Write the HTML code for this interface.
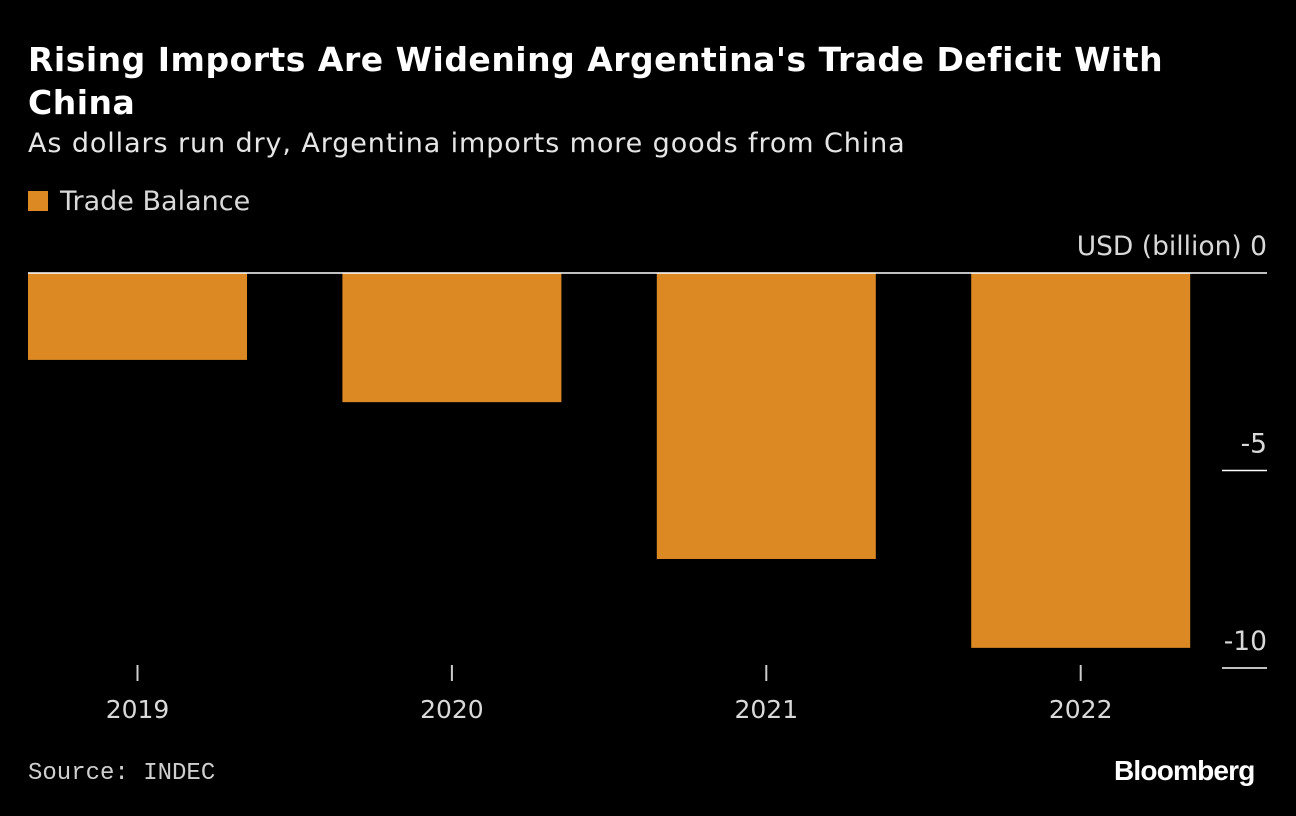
<!DOCTYPE html>
<html><head><meta charset="utf-8"><style>
body{margin:0;background:#000;width:1296px;height:816px;overflow:hidden;font-family:"DejaVu Sans","Liberation Sans",sans-serif;color:#fff}
.t{position:absolute;white-space:nowrap}
</style></head><body>
<div class="t" style="left:28px;top:38px;font-size:33px;font-weight:bold;line-height:43px;letter-spacing:0.5px">Rising Imports Are Widening Argentina's Trade Deficit With<br>China</div>
<div class="t" style="left:28px;top:128px;font-size:27px;color:#e6e6e6;letter-spacing:0.9px">As dollars run dry, Argentina imports more goods from China</div>
<div class="t" style="left:28px;top:186px;font-size:27px;color:#d9d9d9"><span style="display:inline-block;width:20px;height:20px;background:#dc8924;margin-right:12px;vertical-align:-1px"></span>Trade Balance</div>
<div class="t" style="left:28px;top:760px;font-size:24px;color:#cfcfcf;font-family:'Liberation Mono',monospace">Source: INDEC</div>
<div class="t" style="left:1114px;top:755px;font-size:28px;font-weight:bold;letter-spacing:-0.8px;font-family:'Liberation Sans',sans-serif">Bloomberg</div>
<svg id="c" width="1296" height="816" style="position:absolute;left:0;top:0"></svg>
<script>
const categories=["2019","2020","2021","2022"];
const values=[-2.2,-3.27,-7.24,-9.49];
const yTicks=[0,-5,-10];
const yTickLabels=["0","-5","-10"];
const svg=document.getElementById('c');
const NS='http://www.w3.org/2000/svg';
const y=v=>273-v*39.5;
const x=i=>137.5+i*314.4;
const bw=219;
function mk(t,a){const e=document.createElementNS(NS,t);for(const k in a)e.setAttribute(k,a[k]);svg.appendChild(e);return e;}
values.forEach((v,i)=>{
 const r=mk('rect',{x:x(i)-bw/2,y:Math.min(y(0),y(v)),width:bw,height:Math.abs(y(v)-y(0)),fill:'#dc8924'});
 
 
 const tk=mk('line',{x1:x(i),x2:x(i),y1:665,y2:681,stroke:'#ccc','stroke-width':2});
 
 
 const tl=mk('text',{x:x(i),y:718,'text-anchor':'middle',fill:'#d9d9d9','font-size':25,'font-family':'DejaVu Sans, sans-serif'});
 tl.textContent=categories[i];
 
 
});
yTicks.forEach((t,i)=>{
 const ln=mk('line',{x1:t===0?28:1222,x2:1267,y1:y(t),y2:y(t),stroke:'#fff','stroke-width':1.5});
 
 
 const tl=mk('text',{x:1267,y:y(t)-18,'text-anchor':'end',fill:'#d9d9d9','font-size':26.5,'font-family':'DejaVu Sans, sans-serif'});
 tl.textContent=(t===0?'USD (billion) ':'')+yTickLabels[i];
 
 
});
</script>
</body></html>
